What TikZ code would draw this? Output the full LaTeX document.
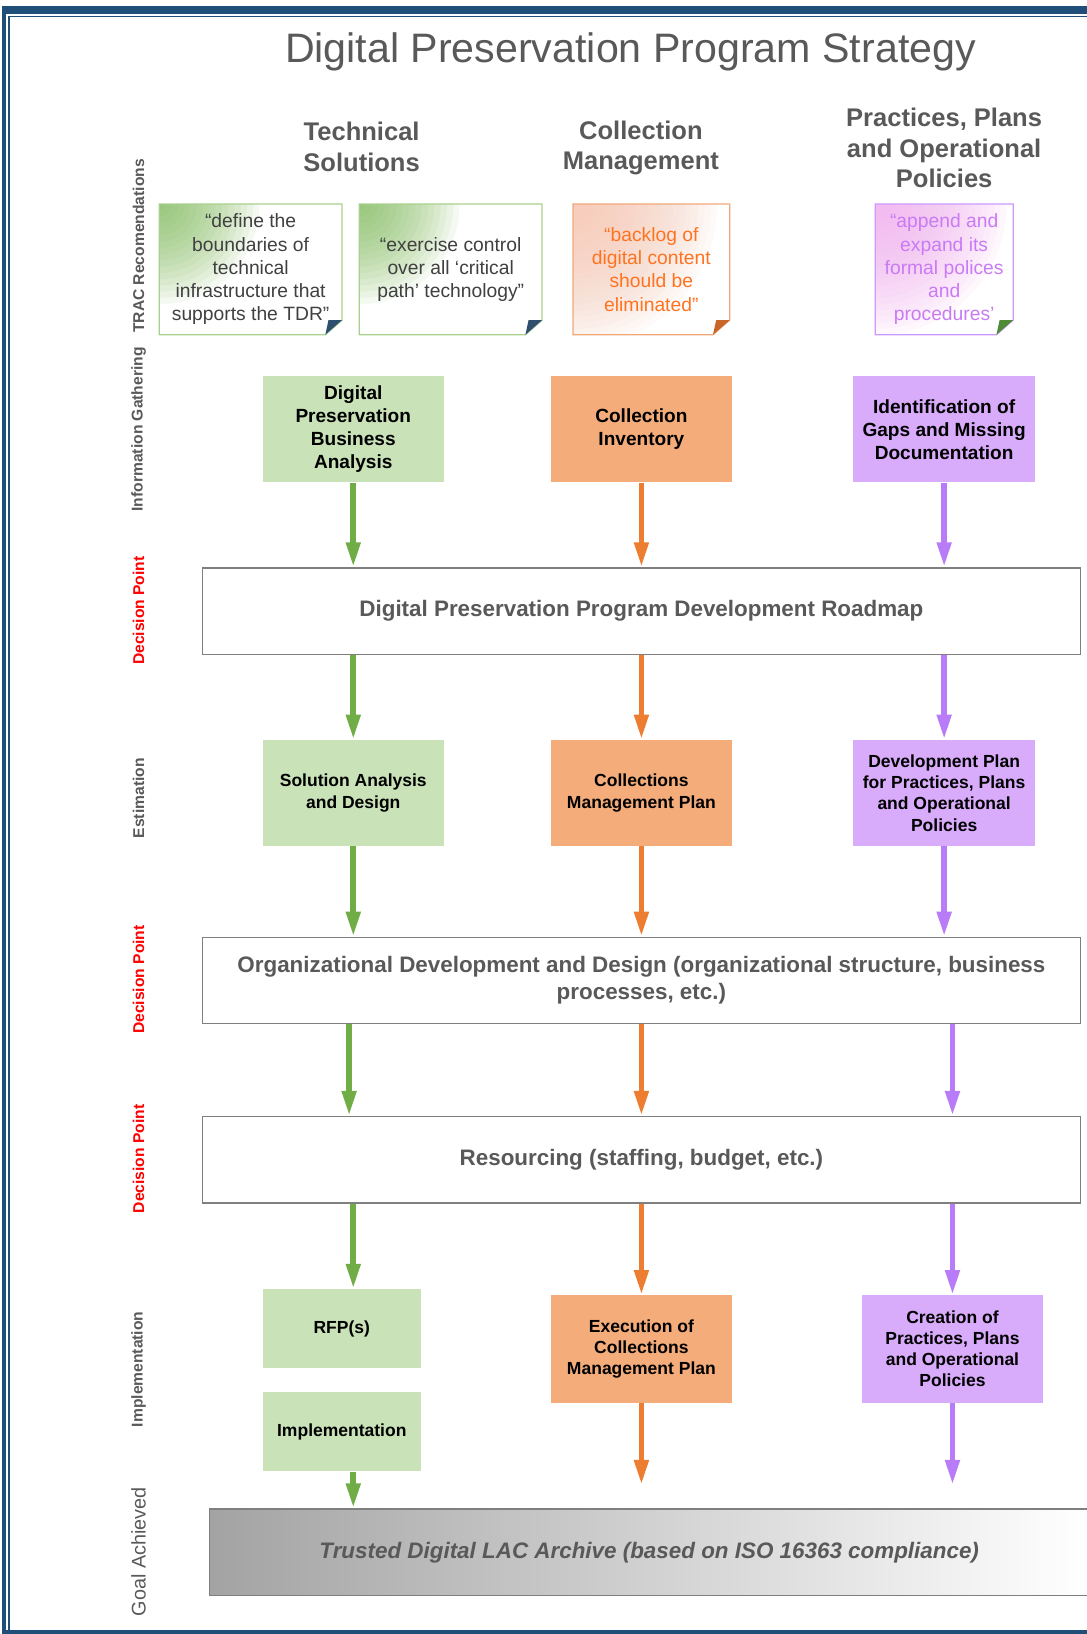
\documentclass[tikz,border=0pt]{standalone}
\usepackage{fontspec}
\setmainfont{Liberation Sans}
\usetikzlibrary{arrows.meta}

\definecolor{frameblue}{HTML}{1F4E79}
\definecolor{hdgray}{HTML}{595959}
\definecolor{boxgray}{HTML}{7F7F7F}
\definecolor{tsfill}{HTML}{C9E2B8}
\definecolor{cmfill}{HTML}{F4AC7B}
\definecolor{ppfill}{HTML}{D8ABFB}
\definecolor{tsline}{HTML}{70AD47}
\definecolor{cmline}{HTML}{ED7D31}
\definecolor{ppline}{HTML}{B97CF8}
\definecolor{tsnote}{HTML}{A9D18E}
\definecolor{tsshade}{HTML}{7DB957}
\definecolor{cmnote}{HTML}{F0A878}
\definecolor{cmshade}{HTML}{F7C9B6}
\definecolor{cmtext}{HTML}{FF7320}
\definecolor{ppnote}{HTML}{CC99FF}
\definecolor{ppshade}{HTML}{F3B2F1}
\definecolor{pptext}{HTML}{C97AF5}
\definecolor{notetext}{HTML}{404040}
\definecolor{foldblue}{HTML}{2F4F6F}
\definecolor{foldbrown}{HTML}{C8662A}
\definecolor{foldgreen}{HTML}{4F8A37}
\definecolor{goalgray}{HTML}{A3A3A3}

\begin{document}
\begin{tikzpicture}[x=1pt, y=-1pt,
  title/.style={font=\fontsize{39.5}{47}\selectfont, text=hdgray},
  colhead/.style={font=\bfseries\fontsize{24.5}{29.5}\selectfont, text=hdgray, align=center},
  rowlab/.style={rotate=90, font=\bfseries\fontsize{15}{18}\selectfont, text=hdgray},
  declab/.style={rowlab, text=red},
  note/.style 2 args={minimum height=125pt, inner sep=0pt, align=center,
    font=\fontsize{18.5}{22.3}\selectfont, fill=white,
    path picture={\foreach \r in {6,12,...,#2}
      \fill[#1, opacity=0.08] (path picture bounding box.north west) circle (\r pt);}},
  task/.style={minimum width=174pt, minimum height=102pt, inner sep=0pt, align=center,
    font=\bfseries\fontsize{16.8}{20.3}\selectfont},
  bigtask/.style={font=\bfseries\fontsize{18.3}{22}\selectfont},
  tsbox/.style={task, fill=tsfill},
  cmbox/.style={task, fill=cmfill},
  ppbox/.style={task, fill=ppfill},
  stage/.style={draw=boxgray, line width=1.2pt, fill=white, minimum width=843pt,
    minimum height=83pt, inner sep=0pt, align=center, text=hdgray,
    font=\bfseries\fontsize{21.5}{26}\selectfont},
  goal/.style={draw=boxgray, line width=1.2pt, left color=goalgray, right color=white,
    minimum width=844pt, minimum height=83pt, inner sep=0pt, text=hdgray,
    font=\bfseries\itshape\fontsize{21.5}{26}\selectfont},
  flow/.style={line width=5.5pt, -{Triangle[width=13pt,length=24pt]}}
]
\useasboundingbox (0,0) rectangle (1043,1568);
\clip (0,0) rectangle (1043,1568);

% frame
\fill[frameblue] (2,6) rectangle (1043,13);
\fill[frameblue] (2,6) rectangle (6,1568);
\fill[frameblue] (2,1564) rectangle (1043,1568);
\draw[frameblue, line width=1.6pt] (8.5,15.7) -- (1043,15.7);
\draw[frameblue, line width=1.6pt] (8.5,15.7) -- (8.5,1564);

\node[title] (title) at (605,50) {Digital Preservation Program Strategy};

% column headings
\node[colhead] (hdtech) at (347,141) {Technical\\Solutions};
\node[colhead] (hdcoll) at (615,142) {Collection\\Management};
\node[colhead] (hdpol) at (906,142) {Practices, Plans\\and Operational\\Policies};

% row labels
\node[rowlab] (lbtrac) at (133,236) {TRAC Recomendations};
\node[rowlab] (lbinfo) at (133,412) {Information Gathering};
\node[declab] (lbdec1) at (133,586) {Decision Point};
\node[rowlab] (lbest) at (133,766) {Estimation};
\node[declab] (lbdec2) at (133,940) {Decision Point};
\node[declab] (lbdec3) at (133,1112) {Decision Point};
\node[rowlab] (lbimpl) at (133,1314) {Implementation};
\node[rowlab, font=\fontsize{19}{22}\selectfont] (lbgoal) at (133,1489) {Goal Achieved};

% TRAC notes
\node[note={tsshade}{96}, minimum width=175pt, text=notetext] (trac1) at (240.5,258.5)
  {“define the\\boundaries of\\technical\\infrastructure that\\supports the TDR”};
\node[note={tsshade}{96}, minimum width=175pt, text=notetext] (trac2) at (432.5,258.5)
  {“exercise control\\over all ‘critical\\path’ technology”};
\node[note={cmshade}{138}, minimum width=150pt, text=cmtext] (trac3) at (625,258.5)
  {“backlog of\\digital content\\should be\\eliminated”};
\node[note={ppshade}{126}, minimum width=132pt, text=pptext] (trac4) at (906,258.5)
  {“append and\\expand its\\formal polices\\and\\procedures’};

\foreach \n/\bc/\fc in {trac1/tsnote/foldblue, trac2/tsnote/foldblue,
    trac3/cmnote/foldbrown, trac4/ppnote/foldgreen} {
  \fill[white] ([yshift=14pt]\n.south east) -- (\n.south east) -- ([xshift=-16pt]\n.south east) -- cycle;
  \draw[\bc, line width=1.2pt] (\n.north west) -- (\n.north east) -- ([yshift=14pt]\n.south east)
    -- ([xshift=-16pt]\n.south east) -- (\n.south west) -- cycle;
  \fill[\fc] ([yshift=14pt]\n.south east) -- ([xshift=-13pt,yshift=14pt]\n.south east)
    -- ([xshift=-16pt]\n.south east) -- cycle;
}

% information gathering
\node[tsbox, bigtask] (dpba) at (339,412) {Digital\\Preservation\\Business\\Analysis};
\node[cmbox, bigtask] (inventory) at (615.5,412) {Collection\\Inventory};
\node[ppbox, bigtask] (gaps) at (906,412) {Identification of\\Gaps and Missing\\Documentation};

\node[stage] (roadmap) at (615.5,586.5) {Digital Preservation Program Development Roadmap};

% estimation
\node[tsbox] (sad) at (339,761) {Solution Analysis\\and Design};
\node[cmbox] (cmplan) at (615.5,761) {Collections\\Management Plan};
\node[ppbox] (devplan) at (906,761) {Development Plan\\for Practices, Plans\\and Operational\\Policies};

\node[stage] (orgdev) at (615.5,941) {Organizational Development and Design (organizational structure, business\\processes, etc.)};
\node[stage] (resourcing) at (615.5,1113) {Resourcing (staffing, budget, etc.)};

% implementation
\node[tsbox, minimum width=152pt, minimum height=76pt] (rfp) at (328,1275) {RFP(s)};
\node[tsbox, minimum width=152pt, minimum height=76pt] (impl) at (328,1374) {Implementation};
\node[cmbox, minimum height=103pt] (exec) at (615.5,1294.5) {Execution of\\Collections\\Management Plan};
\node[ppbox, minimum height=103pt] (creation) at (914,1294.5) {Creation of\\Practices, Plans\\and Operational\\Policies};

\node[goal] (goal) at (623,1489.5) {Trusted Digital LAC Archive (based on ISO 16363 compliance)};

\coordinate (tsmid) at (335,0);
\coordinate (cmend) at (615.5,1425);
\coordinate (ppend) at (914,1425);

% technical solutions
\draw[flow, tsline] (dpba) -- (dpba |- roadmap.north);
\draw[flow, tsline] (roadmap.south -| dpba) -- (sad);
\draw[flow, tsline] (sad) -- (sad |- orgdev.north);
\draw[flow, tsline] (orgdev.south -| tsmid) -- (resourcing.north -| tsmid);
\draw[flow, tsline] (resourcing.south -| sad) -- (rfp.north -| sad);
\draw[flow, tsline] (impl.south -| sad) -- (goal.north -| sad);

% collection management
\draw[flow, cmline] (inventory) -- (inventory |- roadmap.north);
\draw[flow, cmline] (roadmap.south -| inventory) -- (cmplan);
\draw[flow, cmline] (cmplan) -- (cmplan |- orgdev.north);
\draw[flow, cmline] (orgdev.south -| cmplan) -- (resourcing.north -| cmplan);
\draw[flow, cmline] (resourcing.south -| exec) -- (exec);
\draw[flow, cmline] (exec) -- (cmend);

% practices, plans and policies
\draw[flow, ppline] (gaps) -- (gaps |- roadmap.north);
\draw[flow, ppline] (roadmap.south -| gaps) -- (devplan);
\draw[flow, ppline] (devplan) -- (devplan |- orgdev.north);
\draw[flow, ppline] (orgdev.south -| creation) -- (resourcing.north -| creation);
\draw[flow, ppline] (resourcing.south -| creation) -- (creation);
\draw[flow, ppline] (creation) -- (ppend);

\end{tikzpicture}
\end{document}
